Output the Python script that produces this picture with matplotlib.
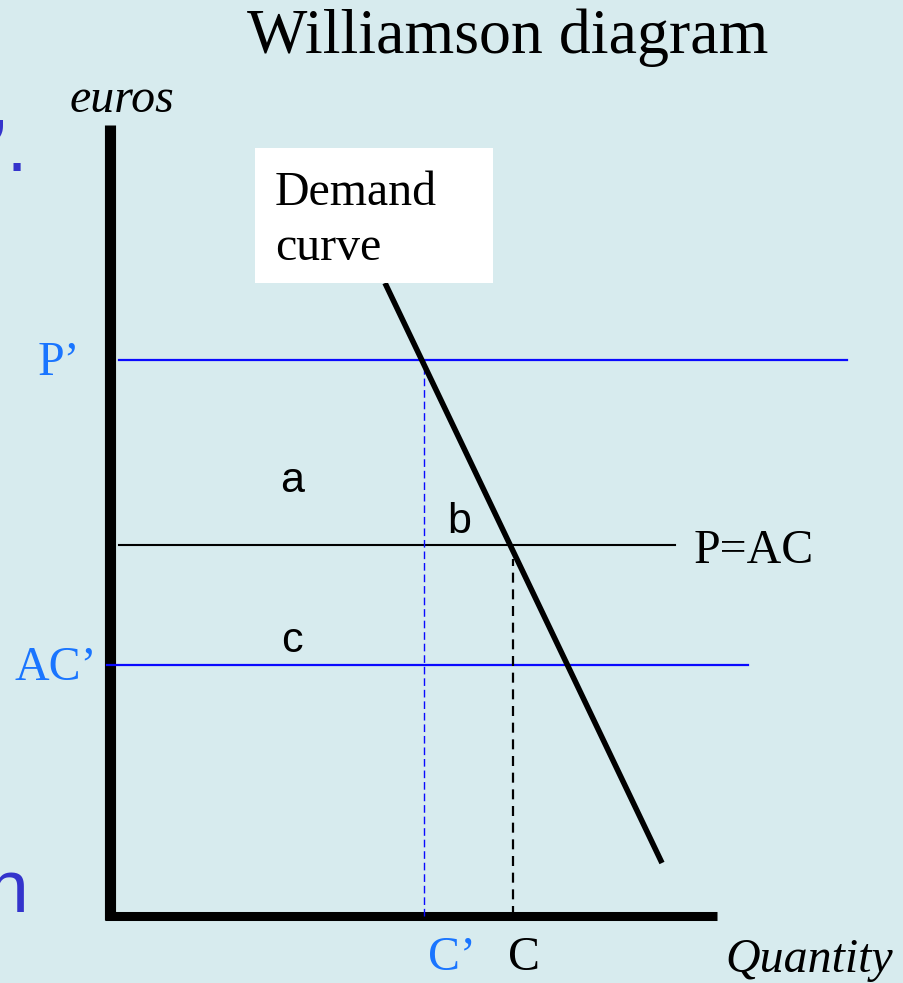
import matplotlib
matplotlib.use("Agg")
import matplotlib.pyplot as plt
from matplotlib.patches import Rectangle

# price levels (euros) and quantities, measured from the origin
p_prime = 556
p_ac = 371
ac_prime = 251
c_prime_q = 314
c_q = 403

demand_q = [275, 552]
demand_p = [633, 53]

# extent of the horizontal price lines
p_prime_span = [9, 737]
p_ac_span = [9, 565]
ac_prime_span = [-3, 638]

axis_q = [-5, 607]
axis_p = [-4, 791]

bg = "#d7ebee"
line_blue = "#0a0aff"
label_blue = "#1a75ff"
frag_blue = "#3434cc"
serif = "Liberation Serif"
sans = "Liberation Sans"
fs = 34.5

fig = plt.figure(figsize=(9.04, 9.83), dpi=100, facecolor=bg)
ax = fig.add_axes([0, 0, 1, 1])
ax.set_facecolor(bg)
ax.set_xlim(-110, 794)
ax.set_ylim(-67, 916)
ax.axis("off")

# axes of the diagram
ax.plot([0, 0], axis_p, color="black", lw=8, solid_capstyle="butt")
ax.plot(axis_q, [0, 0], color="black", lw=6.5, solid_capstyle="butt")

# price lines
ax.plot(p_prime_span, [p_prime, p_prime], color=line_blue, lw=1.6)
ax.plot(p_ac_span, [p_ac, p_ac], color="black", lw=1.5)
ax.plot(ac_prime_span, [ac_prime, ac_prime], color=line_blue, lw=1.6)

# drop lines to the quantity axis
ax.plot([c_prime_q, c_prime_q], [0, p_prime], color=line_blue, lw=1.0,
        linestyle=(0, (5.5, 2.8)))
ax.plot([c_q, c_q], [0, p_ac - 14], color="black", lw=1.6,
        linestyle=(0, (4.5, 3.0)))

# demand curve
ax.plot(demand_q, demand_p, color="black", lw=4.0, solid_capstyle="butt")

# label box for the demand curve
ax.add_patch(Rectangle((145, 633), 238, 135, facecolor="white",
                       edgecolor="none", zorder=3))
ax.text(165, 711, "Demand", family=serif, fontsize=fs, va="baseline", zorder=4)
ax.text(165, 656, "curve", family=serif, fontsize=fs, va="baseline", zorder=4)

# title and axis names
ax.text(137, 863, "Williamson diagram", family=serif, fontsize=46,
        va="baseline")
ax.text(-40, 804, "euros", family=serif, style="italic", fontsize=fs,
        va="baseline")
ax.text(615, -56, "Quantity", family=serif, style="italic", fontsize=fs,
        va="baseline")

# price and quantity labels
ax.text(-30, 541, "P\u2019", family=serif, fontsize=fs, color=label_blue,
        ha="right", va="baseline")
ax.text(-13, 236, "AC\u2019", family=serif, fontsize=fs, color=label_blue,
        ha="right", va="baseline")
ax.text(584, 353, "P=AC", family=serif, fontsize=fs, va="baseline")
ax.text(318, -54, "C\u2019", family=serif, fontsize=fs, color=label_blue,
        va="baseline")
ax.text(398, -54, "C", family=serif, fontsize=fs, va="baseline")

# area labels
ax.text(182, 435, "a", family=sans, fontsize=31, ha="center", va="center")
ax.text(349, 394, "b", family=sans, fontsize=31, ha="center", va="center")
ax.text(182, 275, "c", family=sans, fontsize=31, ha="center", va="center")

# cut-off slide text on the left edge
ax.text(-120, 745, "\u2019.", family=sans, fontsize=54, color=frag_blue,
        va="baseline")
ax.text(-123, 4, "n", family=sans, fontsize=54, color=frag_blue,
        va="baseline")

fig.savefig("out.png", dpi=100, facecolor=bg)
